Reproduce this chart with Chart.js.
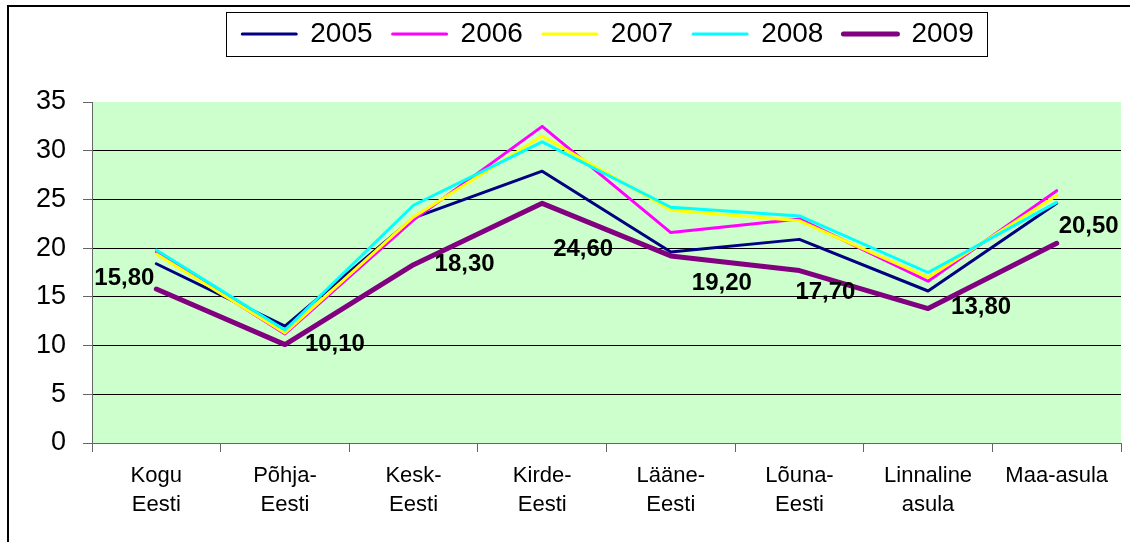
<!DOCTYPE html>
<html>
<head>
<meta charset="utf-8">
<script src="https://cdn.jsdelivr.net/npm/chart.js@4/dist/chart.umd.min.js"></script>
<style>
body { margin: 0; background: #fff; overflow: hidden; }
</style>
</head>
<body>
<canvas id="chart" width="1130" height="542"></canvas>
<script>
// andmed
const regions = [
["Kogu", "Eesti"], ["Põhja-", "Eesti"], ["Kesk-", "Eesti"], ["Kirde-", "Eesti"],
["Lääne-", "Eesti"], ["Lõuna-", "Eesti"], ["Linnaline", "asula"], "Maa-asula"
];
const years = ["2005", "2006", "2007", "2008", "2009"];
const v2005 = [18.4, 12.0, 23.1, 27.9, 19.6, 20.9, 15.6, 24.6];
const v2006 = [19.6, 11.2, 22.9, 32.5, 21.6, 23.0, 16.6, 25.9];
const v2007 = [19.4, 11.3, 23.2, 31.5, 23.9, 22.8, 17.0, 25.4];
const v2008 = [19.8, 11.6, 24.4, 30.9, 24.2, 23.3, 17.5, 24.7];
const v2009 = [15.8, 10.1, 18.3, 24.6, 19.2, 17.7, 13.8, 20.5];
const yTicks = [0, 5, 10, 15, 20, 25, 30, 35];

const colors = ["#000080", "#FF00FF", "#FFFF00", "#00FFFF", "#800080"];
const widths = [3, 3, 3, 3, 5];
// 2009 siltide nihe punkti suhtes (dx, dy)
const labelOffsets = [[-32, -11], [50, 0], [51, 0], [41, 46], [51, 27], [26, 22], [53, -1], [32, -17]];

const FONT = "'Liberation Sans', Arial, sans-serif";

const frame = {
id: "frame",
beforeDraw(chart) {
const { ctx, chartArea: a } = chart;
ctx.save();
ctx.fillStyle = "#CCFFCC";
ctx.fillRect(a.left, a.top, a.right - a.left, a.bottom - a.top);
ctx.restore();
},
afterLayout(chart) {
const lg = chart.legend;
lg.left = 86; lg.right = 1130;
lg.top = 0; lg.bottom = 58;
},
afterDatasetsDraw(chart) {
const ctx = chart.ctx;
const meta = chart.getDatasetMeta(4);
ctx.save();
ctx.font = "bold 24px " + FONT;
ctx.fillStyle = "#000";
ctx.textAlign = "center";
ctx.textBaseline = "middle";
meta.data.forEach((pt, i) => {
const txt = v2009[i].toFixed(2).replace(".", ",");
ctx.fillText(txt, pt.x + labelOffsets[i][0], pt.y + labelOffsets[i][1]);
});
ctx.restore();
},
afterDraw(chart) {
const ctx = chart.ctx;
const hb = chart.legend.legendHitBoxes;
ctx.save();
if (hb && hb.length) {
const first = hb[0], last = hb[hb.length - 1];
const cy = first.top + first.height / 2;
ctx.strokeStyle = "#000";
ctx.lineWidth = 1;
ctx.strokeRect(Math.round(first.left - 16) + 0.5, Math.round(cy - 22) + 0.5,
Math.round(last.left + last.width + 30 - first.left), 44);
}
// ümbris
ctx.fillStyle = "#000";
ctx.fillRect(7, 5, 2, 537);
ctx.fillRect(7, 5, 1123, 2);
ctx.restore();
}
};

const series = [v2005, v2006, v2007, v2008, v2009];

new Chart(document.getElementById("chart"), {
type: "line",
data: {
labels: regions,
datasets: series.map((vals, i) => ({
label: years[i],
data: vals,
borderColor: colors[i],
backgroundColor: colors[i],
borderWidth: widths[i],
pointRadius: 0,
pointHoverRadius: 0,
tension: 0,
borderJoinStyle: "round",
borderCapStyle: "round",
order: series.length - i
}))
},
options: {
responsive: false,
animation: false,
events: [],
layout: { padding: { top: 44, right: 9, left: 0, bottom: 0 } },
plugins: {
tooltip: { enabled: false },
legend: {
position: "top",
labels: {
font: { family: FONT, size: 28 },
color: "#000",
boxWidth: 54,
boxHeight: 0,
padding: 20,
sort: (a, b) => a.datasetIndex - b.datasetIndex
}
}
},
scales: {
x: {
offset: true,
afterFit: s => { s.height = 99; },
grid: { drawOnChartArea: false, offset: true, tickLength: 9, color: "#666" },
border: { color: "#666" },
ticks: {
autoSkip: false, maxRotation: 0, padding: 9, color: "#000",
font: { family: FONT, size: 22, lineHeight: "29px" }
}
},
y: {
min: 0, max: 35,
afterFit: s => { s.width = 92; },
afterBuildTicks: s => { s.ticks = yTicks.map(v => ({ value: v })); },
grid: {
color: c => (c.tick && c.tick.value === 35 ? "rgba(0,0,0,0)" : "#000"),
tickColor: "#666",
tickLength: 9
},
border: { color: "#666" },
ticks: { padding: 17, color: "#000", font: { family: FONT, size: 27 } }
}
}
},
plugins: [frame]
});
</script>
</body>
</html>
